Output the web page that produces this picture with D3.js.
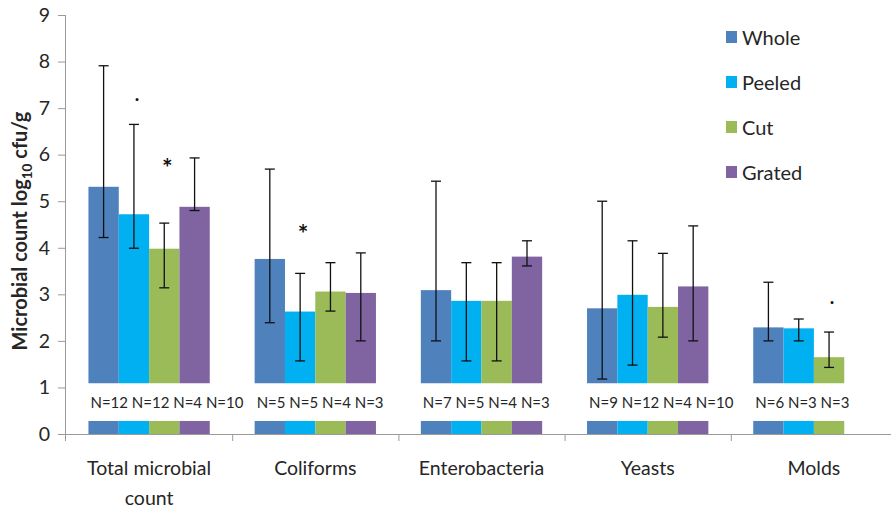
<!DOCTYPE html>
<html>
<head>
<meta charset="utf-8">
<script src="https://cdn.jsdelivr.net/npm/d3@7/dist/d3.min.js"></script>
<style>
  html, body { margin: 0; padding: 0; background: #fff; }
  svg { display: block; font-family: Lato, "DejaVu Sans", sans-serif; }
</style>
</head>
<body>
<svg id="chart" width="891" height="509"></svg>
<script>
// Microbial counts (log10 cfu/g) by product type and processing
const categories = ["Total microbial count", "Coliforms", "Enterobacteria", "Yeasts", "Molds"];
const series = ["Whole", "Peeled", "Cut", "Grated"];
const colors = ["#4F81BD", "#00B0F0", "#9BBB59", "#8064A2"];

// mean value per category, one array per series (null = not measured)
const whole  = [5.31, 3.76, 3.09, 2.70, 2.29];
const peeled = [4.72, 2.63, 2.86, 2.99, 2.27];
const cut    = [3.98, 3.06, 2.86, 2.73, 1.65];
const grated = [4.88, 3.03, 3.81, 3.17, null];

// error bar ends (lower / upper)
const wholeLow   = [4.22, 2.39, 2.00, 1.18, 2.00];
const wholeHigh  = [7.91, 5.69, 5.43, 5.00, 3.26];
const peeledLow  = [3.99, 1.57, 1.57, 1.48, 2.00];
const peeledHigh = [6.65, 3.45, 3.68, 4.15, 2.47];
const cutLow     = [3.14, 2.64, 1.57, 2.08, 1.43];
const cutHigh    = [4.53, 3.68, 3.68, 3.88, 2.19];
const gratedLow  = [4.80, 2.00, 3.61, 2.00, null];
const gratedHigh = [5.93, 3.89, 4.15, 4.47, null];

// sample sizes shown beneath each group
const sampleLabels = [
  "N=12 N=12 N=4 N=10",
  "N=5 N=5 N=4 N=3",
  "N=7 N=5 N=4 N=3",
  "N=9 N=12 N=4 N=10",
  "N=6 N=3 N=3"
];

// significance marks: category index, series index, symbol, height in axis units
const marks = [
  { cat: 0, ser: 1, sym: ".", at: 7.19 },
  { cat: 0, ser: 2, sym: "*", at: 5.83 },
  { cat: 1, ser: 1, sym: "*", at: 4.40 },
  { cat: 4, ser: 2, sym: ".", at: 2.84 }
];

const yTicks = [0, 1, 2, 3, 4, 5, 6, 7, 8, 9];

const means = [whole, peeled, cut, grated];
const lows = [wholeLow, peeledLow, cutLow, gratedLow];
const highs = [wholeHigh, peeledHigh, cutHigh, gratedHigh];

const svg = d3.select("#chart");
const plotLeft = 66, plotRight = 897, plotTop = 15, plotBottom = 434;

const y = d3.scaleLinear().domain([0, 9]).range([plotBottom, plotTop]);
const x0 = d3.scaleBand().domain(categories).range([plotLeft, plotRight]).paddingInner(0).paddingOuter(0);
const x1 = d3.scaleBand().domain(series).range([0, x0.bandwidth()]).paddingInner(0).paddingOuter(0.74);

const axisColor = "#9a9a9a";
const textColor = "#262626";

// rows of bars
const rows = [];
categories.forEach((c, ci) => {
  series.forEach((s, si) => {
    const v = means[si][ci];
    if (v == null) return;
    rows.push({ c, ci, s, si, v, lo: lows[si][ci], hi: highs[si][ci] });
  });
});

const plot = svg.append("g");

plot.selectAll("rect.bar").data(rows).enter().append("rect")
  .attr("class", "bar")
  .attr("x", d => x0(d.c) + x1(d.s))
  .attr("width", x1.bandwidth())
  .attr("y", d => y(d.v))
  .attr("height", d => y(0) - y(d.v))
  .attr("fill", d => colors[d.si]);

// error bars
const capW = 10;
const cx = d => x0(d.c) + x1(d.s) + x1.bandwidth() / 2;
const eb = plot.selectAll("g.err").data(rows).enter().append("g")
  .attr("class", "err")
  .attr("stroke", "#111")
  .attr("stroke-width", 1.3);
eb.append("line")
  .attr("x1", cx).attr("x2", cx)
  .attr("y1", d => y(d.lo)).attr("y2", d => y(d.hi));
["lo", "hi"].forEach(k => {
  eb.append("line")
    .attr("x1", d => cx(d) - capW / 2)
    .attr("x2", d => cx(d) + capW / 2)
    .attr("y1", d => y(d[k])).attr("y2", d => y(d[k]));
});

// white band carrying the sample sizes
svg.append("rect")
  .attr("x", plotLeft + 1).attr("width", 891 - plotLeft)
  .attr("y", y(1.09)).attr("height", y(0.28) - y(1.09))
  .attr("fill", "#fff");

svg.selectAll("text.n").data(sampleLabels).enter().append("text")
  .attr("class", "n")
  .attr("x", (d, i) => x0(categories[i]) + x1(series[0]) + 2)
  .attr("y", 408)
  .attr("font-size", 15)
  .attr("fill", textColor)
  .text(d => d);

// significance marks
svg.selectAll("text.mark").data(marks).enter().append("text")
  .attr("class", "mark")
  .attr("x", d => x0(categories[d.cat]) + x1(series[d.ser]) + x1.bandwidth() / 2 + 3)
  .attr("y", d => d.sym === "*" ? y(d.at) + 14 : y(d.at) + 2)
  .attr("text-anchor", "middle")
  .attr("font-size", d => d.sym === "*" ? 25 : 19)
  .attr("font-weight", "bold")
  .attr("fill", "#111")
  .text(d => d.sym);

// y axis
const yAxis = svg.append("g")
  .attr("transform", `translate(${plotLeft},0)`)
  .call(d3.axisLeft(y).tickValues(yTicks).tickSize(8).tickPadding(8).tickFormat(d3.format("d")));
yAxis.select(".domain").attr("stroke", axisColor).attr("d", `M-0.5,${plotTop}V${plotBottom + 7}`);
yAxis.selectAll(".tick line").attr("stroke", axisColor);
yAxis.selectAll(".tick text").attr("font-size", 19.5).attr("fill", textColor)
  .attr("font-family", "Lato, sans-serif");

// x axis with ticks on the category boundaries
const xAxis = svg.append("g").attr("transform", `translate(0,${plotBottom})`);
xAxis.append("line").attr("x1", plotLeft).attr("x2", plotRight).attr("y1", 0.5).attr("y2", 0.5)
  .attr("stroke", axisColor);
xAxis.selectAll("line.tick").data(categories.slice(1)).enter().append("line")
  .attr("class", "tick")
  .attr("x1", d => x0(d) + 0.5).attr("x2", d => x0(d) + 0.5)
  .attr("y1", 0).attr("y2", 7)
  .attr("stroke", axisColor);

// category labels, wrapped into two lines where they are long
const catLines = { "Total microbial count": ["Total microbial", "count"] };
xAxis.selectAll("text.cat").data(categories).enter().append("text")
  .attr("class", "cat")
  .attr("text-anchor", "middle")
  .attr("font-size", 19.5)
  .attr("fill", textColor)
  .each(function (d) {
    const lines = catLines[d] || [d];
    const t = d3.select(this);
    lines.forEach((ln, i) => {
      t.append("tspan")
        .attr("x", x0(d) + x0.bandwidth() / 2)
        .attr("y", 41 + i * 30)
        .text(ln);
    });
  });

// y axis title
const title = svg.append("text")
  .attr("transform", `translate(27,231) rotate(-90)`)
  .attr("text-anchor", "middle")
  .attr("font-size", 20)
  .attr("font-weight", "bold")
  .attr("fill", textColor);
title.append("tspan").text("Microbial count log");
title.append("tspan").attr("font-size", 13.5).attr("dy", 5).text("10");
title.append("tspan").attr("dy", -5).text(" cfu/g");

// legend
const legend = svg.append("g").attr("transform", "translate(726,37)");
const li = legend.selectAll("g").data(series).enter().append("g")
  .attr("transform", (d, i) => `translate(0,${i * 45})`);
li.append("rect").attr("x", 0).attr("y", -6).attr("width", 11).attr("height", 12)
  .attr("fill", (d, i) => colors[i]);
li.append("text").attr("x", 16).attr("y", 7.5)
  .attr("font-size", 20).attr("fill", textColor).text(d => d);
</script>
</body>
</html>
